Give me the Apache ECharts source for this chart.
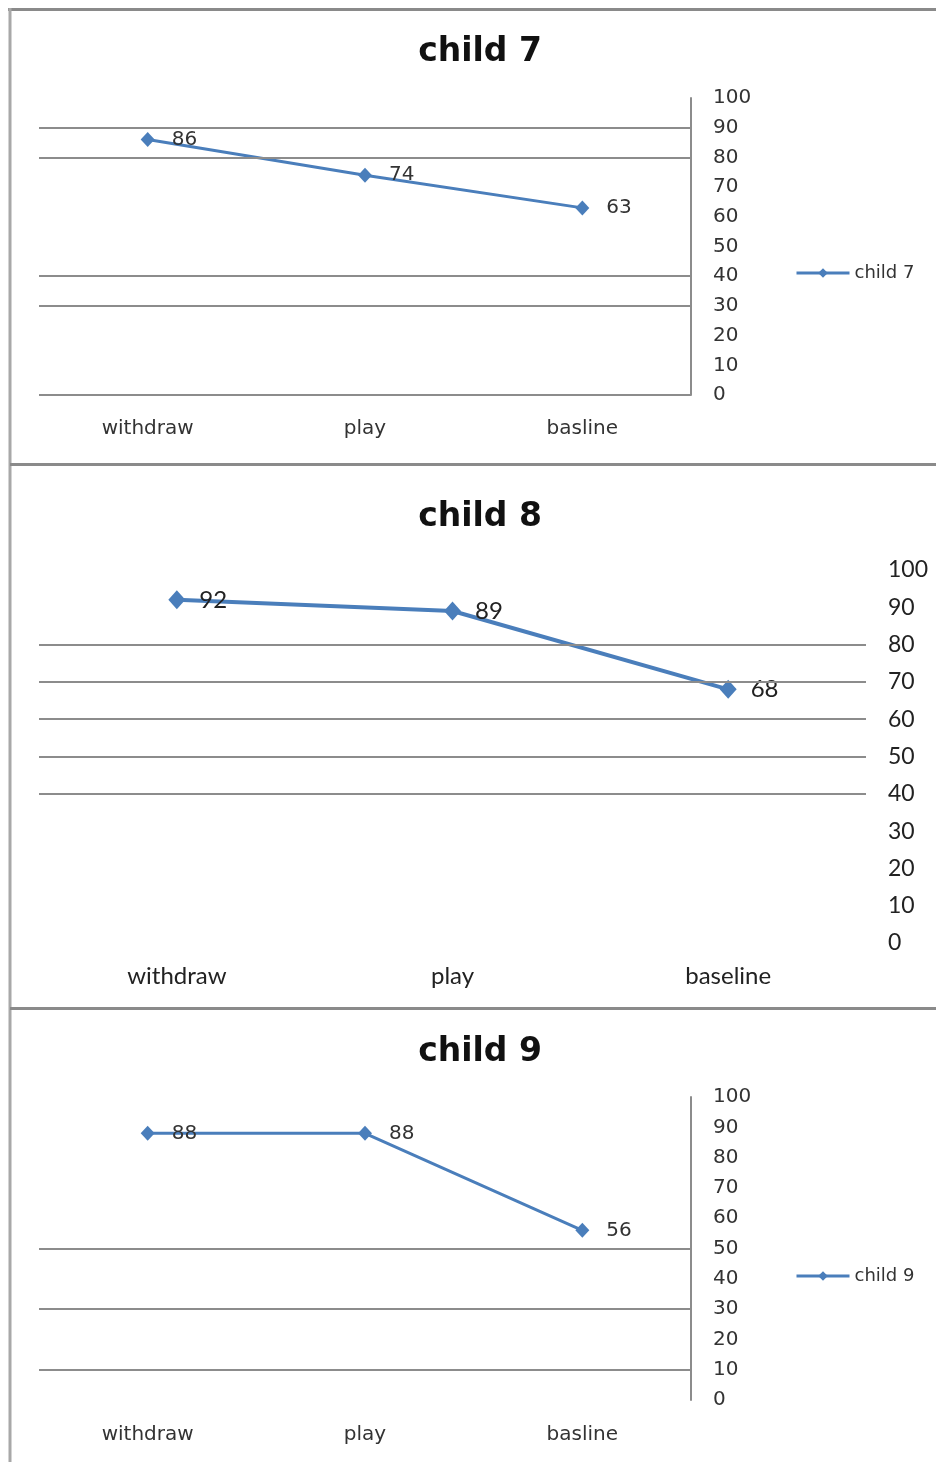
<!DOCTYPE html>
<html>
<head>
<meta charset="utf-8">
<script src="https://cdn.jsdelivr.net/npm/echarts@6/dist/echarts.min.js"></script>
<style>
html,body{margin:0;padding:0;background:#fff;}
#chart{width:936px;height:1462px;}
</style>
</head>
<body>
<div id="chart"></div>
<script>
// ---- data ----
var categories7 = ['withdraw', 'play', 'basline'];
var categories8 = ['withdraw', 'play', 'baseline'];
var categories9 = ['withdraw', 'play', 'basline'];
var child7 = [86, 74, 63];
var child8 = [92, 89, 68];
var child9 = [88, 88, 56];
var titles = ['child 7', 'child 8', 'child 9'];
var gridLines7 = [90, 80, 40, 30, 0];
var gridLines8 = [80, 70, 60, 50, 40];
var gridLines9 = [50, 30, 10];
var yMin = 0, yMax = 100, yStep = 10;

var BLUE = '#4a7ebb';
var GRID = '#8c8c8c';
var TXT = '#222';
var SMALL = 'DejaVu Sans';
var BIG = 'Lato';

function mark(vals) {
  return {
    silent: true, symbol: 'none', label: {show: false},
    lineStyle: {color: GRID, width: 2, type: 'solid'},
    data: vals.map(function (v) { return {yAxis: v}; })
  };
}

var chart = echarts.init(document.getElementById('chart'), null, {renderer: 'canvas'});
chart.setOption({
  animation: false,
  backgroundColor: '#fff',
  graphic: [
    {type: 'line', shape: {x1: 8, y1: 9.5, x2: 936, y2: 9.5}, style: {stroke: '#8a8a8a', lineWidth: 3}},
    {type: 'line', shape: {x1: 10, y1: 8, x2: 10, y2: 1462}, style: {stroke: '#a8a8a8', lineWidth: 3}},
    {type: 'line', shape: {x1: 10, y1: 464.5, x2: 936, y2: 464.5}, style: {stroke: '#8a8a8a', lineWidth: 3}},
    {type: 'line', shape: {x1: 10, y1: 1008.5, x2: 936, y2: 1008.5}, style: {stroke: '#8a8a8a', lineWidth: 3}}
  ],
  title: [
    {text: titles[0], left: 475, top: 31, textAlign: 'center', textStyle: {fontFamily: 'DejaVu Sans', fontWeight: 'bold', fontSize: 33, color: '#111'}},
    {text: titles[1], left: 475, top: 496, textAlign: 'center', textStyle: {fontFamily: 'DejaVu Sans', fontWeight: 'bold', fontSize: 33, color: '#111'}},
    {text: titles[2], left: 475, top: 1031, textAlign: 'center', textStyle: {fontFamily: 'DejaVu Sans', fontWeight: 'bold', fontSize: 33, color: '#111'}}
  ],
  legend: [
    {data: [titles[0]], left: 790, top: 259, itemWidth: 53, itemHeight: 12, itemGap: 5,
     lineStyle: {width: 3}, textStyle: {fontFamily: SMALL, fontSize: 18, color: '#333'}},
    {data: [titles[2]], left: 790, top: 1262, itemWidth: 53, itemHeight: 12, itemGap: 5,
     lineStyle: {width: 3}, textStyle: {fontFamily: SMALL, fontSize: 18, color: '#333'}}
  ],
  grid: [
    {left: 39, top: 98, width: 652, height: 297},
    {left: 39, top: 570, width: 827, height: 373},
    {left: 39, top: 1097, width: 652, height: 303}
  ],
  xAxis: [
    {gridIndex: 0, type: 'category', data: categories7, axisLine: {show: false}, axisTick: {show: false},
     axisLabel: {margin: 24, fontFamily: SMALL, fontSize: 20, color: '#333'}},
    {gridIndex: 1, type: 'category', data: categories8, axisLine: {show: false}, axisTick: {show: false},
     axisLabel: {margin: 21, fontFamily: BIG, fontSize: 24, color: TXT}},
    {gridIndex: 2, type: 'category', data: categories9, axisLine: {show: false}, axisTick: {show: false},
     axisLabel: {margin: 25, fontFamily: SMALL, fontSize: 20, color: '#333'}}
  ],
  yAxis: [
    {gridIndex: 0, type: 'value', position: 'right', min: yMin, max: yMax, interval: yStep,
     axisLine: {show: true, lineStyle: {color: GRID, width: 2}}, axisTick: {show: false}, splitLine: {show: false},
     axisLabel: {margin: 22, fontFamily: SMALL, fontSize: 20, color: '#333'}},
    {gridIndex: 1, type: 'value', position: 'right', min: yMin, max: yMax, interval: yStep,
     axisLine: {show: false}, axisTick: {show: false}, splitLine: {show: false},
     axisLabel: {margin: 22, fontFamily: BIG, fontSize: 23, color: TXT}},
    {gridIndex: 2, type: 'value', position: 'right', min: yMin, max: yMax, interval: yStep,
     axisLine: {show: true, lineStyle: {color: GRID, width: 2}}, axisTick: {show: false}, splitLine: {show: false},
     axisLabel: {margin: 22, fontFamily: SMALL, fontSize: 20, color: '#333'}}
  ],
  series: [
    {name: titles[0], type: 'line', xAxisIndex: 0, yAxisIndex: 0, data: child7,
     symbol: 'diamond', symbolSize: [14, 15], lineStyle: {color: BLUE, width: 3}, itemStyle: {color: BLUE},
     label: {show: true, position: 'right', distance: 17, fontFamily: SMALL, fontSize: 20, color: '#333'},
     markLine: mark(gridLines7), z: 3},
    {name: titles[1], type: 'line', xAxisIndex: 1, yAxisIndex: 1, data: child8,
     symbol: 'diamond', symbolSize: [17, 19], lineStyle: {color: BLUE, width: 4}, itemStyle: {color: BLUE},
     label: {show: true, position: 'right', distance: 14, fontFamily: BIG, fontSize: 24, color: TXT},
     markLine: mark(gridLines8), z: 3},
    {name: titles[2], type: 'line', xAxisIndex: 2, yAxisIndex: 2, data: child9,
     symbol: 'diamond', symbolSize: [14, 15], lineStyle: {color: BLUE, width: 3}, itemStyle: {color: BLUE},
     label: {show: true, position: 'right', distance: 17, fontFamily: SMALL, fontSize: 20, color: '#333'},
     markLine: mark(gridLines9), z: 3}
  ]
});
</script>
</body>
</html>
